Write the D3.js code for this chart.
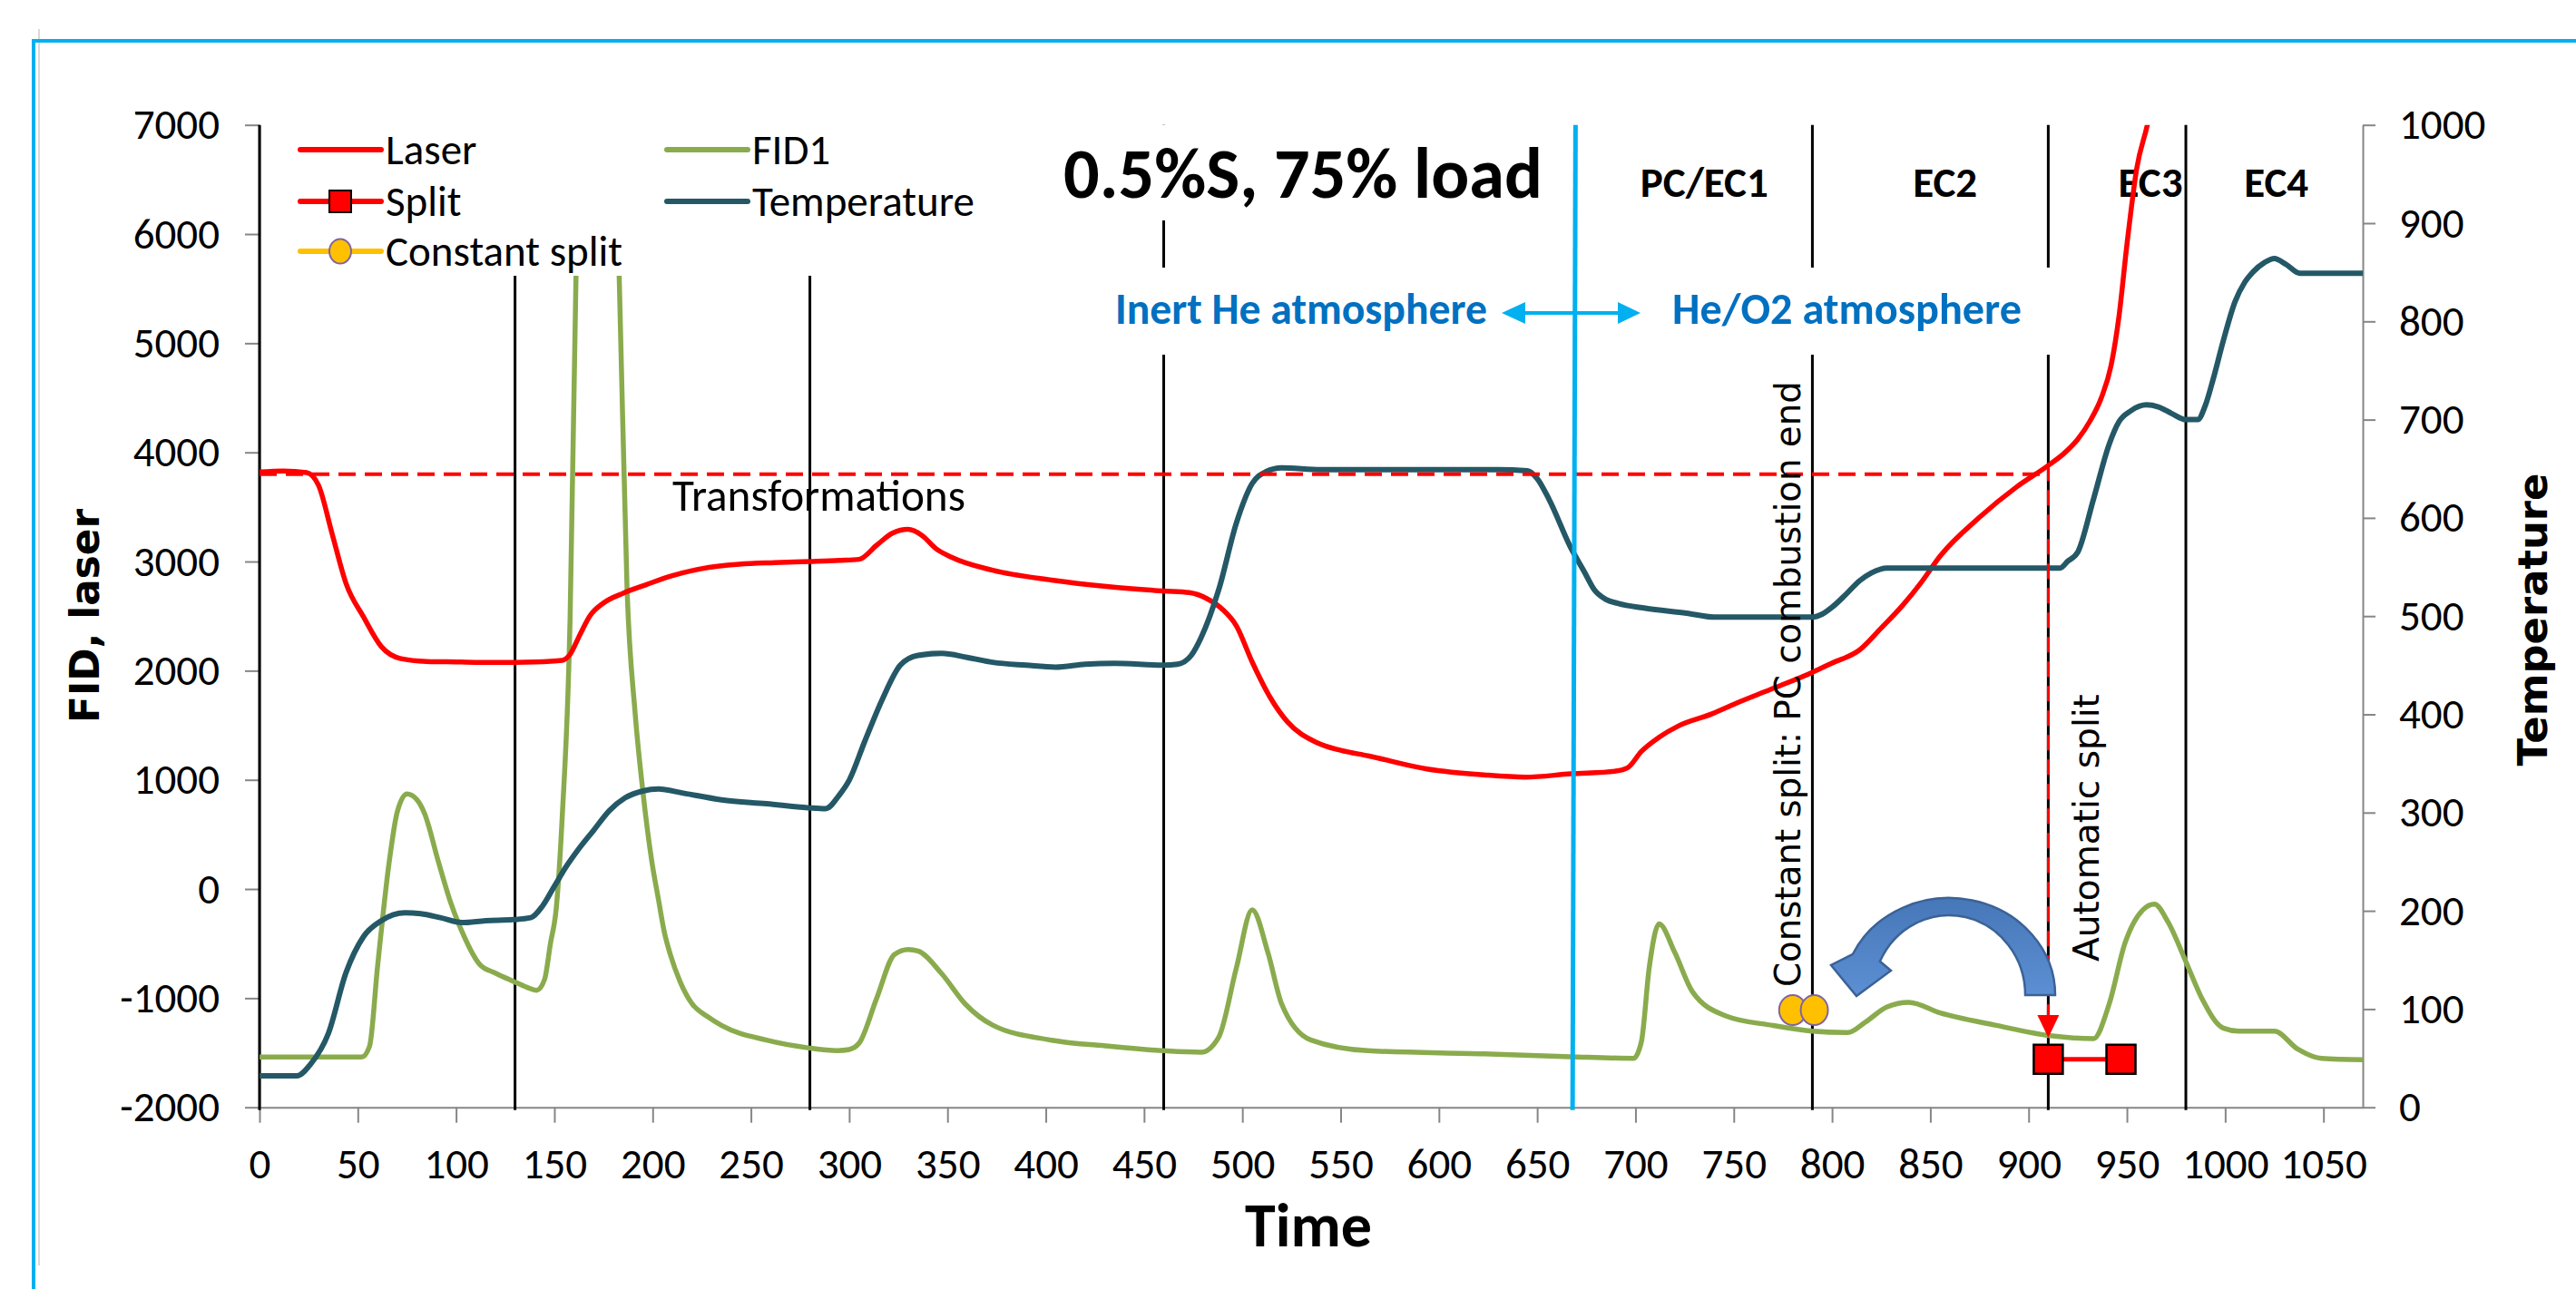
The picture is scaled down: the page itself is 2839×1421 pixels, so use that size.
<!DOCTYPE html>
<html lang="en">
<head>
<meta charset="UTF-8">
<script src="https://d3js.org/d3.v7.min.js"></script>
<style>
  body { margin: 0; background: #fff; }
  svg { display: block; }
</style>
<title>0.5%S, 75% load</title>
</head>
<body>
<div id="chart"></div>
<script>
// values: [time, value]
const laser = [[0,3820],[12,3830],[24,3815],[30,3700],[37,3250],[44,2800],[53,2490],[62,2220],[72,2110],[85,2085],
  [100,2080],[120,2075],[140,2080],[154,2095],[158,2150],[163,2330],[168,2500],[175,2620],[185,2710],[197,2790],
  [210,2870],[225,2935],[244,2975],[262,2990],[280,3000],[295,3010],[305,3020],[314,3150],[322,3260],[330,3295],
  [337,3240],[344,3120],[352,3040],[373,2920],[403,2830],[432,2770],[460,2730],[473,2715],[482,2660],[490,2560],
  [497,2410],[505,2080],[514,1760],[523,1530],[538,1340],[550,1270],[564,1220],[594,1100],[623,1045],[644,1025],
  [667,1055],[690,1080],[696,1110],[703,1260],[712,1390],[722,1495],[739,1605],[751,1700],[769,1830],[790,1985],
  [800,2070],[814,2190],[825,2390],[836,2600],[845,2800],[855,3050],[875,3405],[894,3685],[910,3880],[918,3990],
  [925,4120],[931,4280],[937,4500],[942,4800],[946,5250],[950,5900],[955,6600],[961,7050],[966,7600]];

const fid1 = [[0,-1540],[52,-1540],[56,-1440],[60,-720],[66,250],[70,700],[75,870],[80,820],[84,690],[91,250],
  [97,-110],[103,-390],[112,-690],[120,-770],[129,-845],[136,-900],[141,-928],[145,-830],[148,-500],[151,-170],
  [154,660],[158,2470],[161,5600],[166,8000],[172,9000],[178,8000],[183,5600],[187,2740],[191,1630],[195,900],
  [199.6,250],[203,-100],[206,-400],[209,-600],[214,-850],[220,-1050],[228,-1170],[235,-1250],[258,-1385],
  [279,-1455],[294,-1480],[300,-1470],[305,-1413],[314,-1000],[323,-600],[330,-554],[335,-568],[347,-775],
  [359,-1053],[373,-1247],[403,-1385],[432,-1440],[460,-1482],[479,-1496],[488,-1357],[497,-720],[505,-190],
  [513,-582],[520,-1053],[535,-1385],[564,-1482],[623,-1510],[667,-1537],[699,-1551],[703,-1400],[707,-720],
  [712,-320],[720,-582],[729,-942],[746,-1163],[770,-1250],[790,-1302],[808,-1315],[817,-1219],[828,-1080],
  [839,-1039],[855,-1136],[883,-1247],[911,-1344],[933,-1371],[941,-1053],[949,-498],[958,-194],[964,-139],
  [971,-305],[980,-665],[988,-997],[999,-1274],[1007,-1302],[1025,-1302],[1037,-1468],[1049,-1551],[1070,-1565]];

const temperature = [[0,32],[19,32],[26,44],[35,75],[44,137],[53,174],[62,190],[74,198],[82,197],[92,193],[103,188],
  [115,190],[129,191],[138,193],[144,205],[150,225],[156,245],[162,262],[170,282],[178,302],[186,315],[195,322],
  [203,324],[215,320],[235,313],[258,309],[279,305],[288,304],[295,318],[300,333],[308,373],[317,416],[326,450],
  [335,460],[347,462],[360,458],[373,453],[390,450],[405,448],[420,451],[435,452],[460,450],[467,451],[474,460],
  [479,478],[488,527],[497,595],[505,635],[512,647],[520,651],[540,649],[570,649],[600,649],[630,649],[645,648],
  [650,640],[656,619],[667,570],[674,545],[679,527],[685,517],[691,513],[705,508],[726,503],[740,499],[760,499],
  [790,499],[795,502],[800,509],[807,522],[814,536],[820,544],[828,549],[850,549],[880,549],[916,549],[920,556],
  [925,565],[933,619],[941,675],[946,698],[952,709],[960,715],[966,713],[973,706],[980,700],[986,700],[990,715],
  [994,742],[999,780],[1005,820],[1010,840],[1014,850],[1020,860],[1025,864],[1031,858],[1038,849],[1050,849],[1070,849]];

const split = [[910,-1560],[947,-1560]];
const constantSplit = [[780,-1110],[791,-1110]];

const markerTimes = [0, 130, 280, 460, 790, 910, 980];
const sectionLabels = ["PC/EC1", "EC2", "EC3", "EC4"];
const sectionTimes = [735, 857.5, 962, 1026];
const transformLevel = 3800;

const timeTicks = d3.range(0, 1051, 50);
const leftTicks = d3.range(-2000, 7001, 1000);
const rightTicks = d3.range(0, 1001, 100);

const W = 2839, H = 1421;
const CAL = "Carlito, Calibri, Lato, sans-serif";
const VERD = "Verdana, 'DejaVu Sans', sans-serif";
const FS = 47;

const svg = d3.select("#chart").append("svg").attr("width", W).attr("height", H);

const x = d3.scaleLinear().domain([0, 1070]).range([286, 2604]);
const yL = d3.scaleLinear().domain([-2000, 7000]).range([1220.7, 137.7]);
const yR = d3.scaleLinear().domain([0, 1000]).range([1220.7, 137.7]);

// squeeze/stretch a text to a target width
function fit(sel, w) {
  const cur = parseFloat(sel.style("font-size"));
  const len = sel.node().getComputedTextLength();
  sel.style("font-size", (cur * w / len) + "px");
  return sel;
}

// picture frame
svg.append("line").attr("x1", 43).attr("x2", 43).attr("y1", 32).attr("y2", 1395)
  .attr("stroke", "#d9d9d9").attr("stroke-width", 2);
svg.append("line").attr("x1", 37).attr("x2", W).attr("y1", 45).attr("y2", 45)
  .attr("stroke", "#00b0f0").attr("stroke-width", 4);
svg.append("line").attr("x1", 37).attr("x2", 37).attr("y1", 43).attr("y2", H)
  .attr("stroke", "#00b0f0").attr("stroke-width", 4);

svg.append("defs").append("clipPath").attr("id", "plot")
  .append("rect").attr("x", 286).attr("y", 137.7).attr("width", 2318).attr("height", 1083);

// axes
function styleAxis(g) {
  g.attr("font-family", CAL).attr("font-size", FS);
  g.select(".domain").attr("stroke", "#868686").attr("stroke-width", 2);
  g.selectAll(".tick line").attr("stroke", "#868686").attr("stroke-width", 2);
  g.selectAll(".tick text").attr("fill", "#000");
}
svg.append("g").attr("transform", `translate(0,${yL(-2000)})`)
  .call(d3.axisBottom(x).tickValues(timeTicks).tickFormat(d => String(d))
    .tickSize(17).tickPadding(28).tickSizeOuter(0))
  .call(styleAxis);
svg.append("g").attr("transform", `translate(${x(0)},0)`)
  .call(d3.axisLeft(yL).tickValues(leftTicks).tickFormat(d => String(d))
    .tickSize(16).tickPadding(28).tickSizeOuter(0))
  .call(styleAxis);
svg.append("g").attr("transform", `translate(${x(1070)},0)`)
  .call(d3.axisRight(yR).tickValues(rightTicks).tickFormat(d => String(d))
    .tickSize(14).tickPadding(26).tickSizeOuter(0))
  .call(styleAxis);

// black stage lines
svg.selectAll(".stage").data(markerTimes).enter().append("line")
  .attr("class", "stage")
  .attr("x1", d => x(d)).attr("x2", d => x(d))
  .attr("y1", yL(7000)).attr("y2", yL(-2000) + 3)
  .attr("stroke", "#000").attr("stroke-width", 3);

// stage names
svg.selectAll(".sec").data(sectionLabels).enter().append("text")
  .attr("class", "sec")
  .attr("x", (d, i) => x(sectionTimes[i])).attr("y", 217)
  .attr("text-anchor", "middle")
  .style("font-family", CAL).style("font-weight", "bold").style("font-size", "44px")
  .text(d => d);
const pc = svg.select(".sec");
fit(pc, 141);
svg.selectAll(".sec").style("font-size", pc.style("font-size"));

// series
const plot = svg.append("g").attr("clip-path", "url(#plot)");
const lineL = d3.line().x(d => x(d[0])).y(d => yL(d[1])).curve(d3.curveMonotoneX);
const lineR = d3.line().x(d => x(d[0])).y(d => yR(d[1])).curve(d3.curveMonotoneX);

plot.append("path").datum(fid1).attr("d", lineL)
  .attr("fill", "none").attr("stroke", "#8aab4d").attr("stroke-width", 5.5).attr("stroke-linejoin", "round");
plot.append("path").datum(laser).attr("d", lineL)
  .attr("fill", "none").attr("stroke", "#ff0000").attr("stroke-width", 5.5).attr("stroke-linejoin", "round");
plot.append("path").datum(temperature).attr("d", lineR)
  .attr("fill", "none").attr("stroke", "#245866").attr("stroke-width", 6).attr("stroke-linejoin", "round");

// transformation level
plot.append("line")
  .attr("x1", x(0)).attr("x2", x(910))
  .attr("y1", yL(transformLevel)).attr("y2", yL(transformLevel))
  .attr("stroke", "#ff0000").attr("stroke-width", 4).attr("stroke-dasharray", "19,10");

// split markers
plot.append("path").datum(split).attr("d", d3.line().x(d => x(d[0])).y(d => yL(d[1])))
  .attr("stroke", "#ff0000").attr("stroke-width", 5).attr("fill", "none");
plot.selectAll(".sq").data(split).enter().append("rect")
  .attr("x", d => x(d[0]) - 16).attr("y", d => yL(d[1]) - 16)
  .attr("width", 32).attr("height", 32)
  .attr("fill", "#ff0000").attr("stroke", "#000").attr("stroke-width", 2.5);

plot.append("path").datum(constantSplit).attr("d", d3.line().x(d => x(d[0])).y(d => yL(d[1])))
  .attr("stroke", "#ffc000").attr("stroke-width", 5).attr("fill", "none");
plot.selectAll(".cs").data(constantSplit).enter().append("ellipse")
  .attr("cx", d => x(d[0])).attr("cy", d => yL(d[1]))
  .attr("rx", 15).attr("ry", 16.5)
  .attr("fill", "#ffc000").attr("stroke", "#8064a2").attr("stroke-width", 2);

svg.append("text").attr("x", 741).attr("y", 563)
  .style("font-family", CAL).style("font-size", FS + "px").text("Transformations")
  .call(s => fit(s, 323));

// legend
svg.append("rect").attr("x", 296).attr("y", 128).attr("width", 808).attr("height", 176).attr("fill", "#fff");
const legendItems = [
  { name: "Laser", color: "#ff0000", lx: 331, ly: 165, mark: null },
  { name: "Split", color: "#ff0000", lx: 331, ly: 222, mark: "square" },
  { name: "Constant split", color: "#ffc000", lx: 331, ly: 277, mark: "circle" },
  { name: "FID1", color: "#8aab4d", lx: 735, ly: 165, mark: null },
  { name: "Temperature", color: "#245866", lx: 735, ly: 222, mark: null }
];
const lg = svg.selectAll(".lg").data(legendItems).enter().append("g").attr("class", "lg");
lg.append("line")
  .attr("x1", d => d.lx).attr("x2", d => d.lx + 89)
  .attr("y1", d => d.ly).attr("y2", d => d.ly)
  .attr("stroke", d => d.color).attr("stroke-width", 6).attr("stroke-linecap", "round");
lg.filter(d => d.mark === "square").append("rect")
  .attr("x", d => d.lx + 44 - 12).attr("y", d => d.ly - 12).attr("width", 24).attr("height", 24)
  .attr("fill", "#ff0000").attr("stroke", "#000").attr("stroke-width", 2);
lg.filter(d => d.mark === "circle").append("ellipse")
  .attr("cx", d => d.lx + 44).attr("cy", d => d.ly).attr("rx", 12).attr("ry", 13.5)
  .attr("fill", "#ffc000").attr("stroke", "#8064a2").attr("stroke-width", 2);
lg.append("text")
  .attr("x", d => d.lx + 94).attr("y", d => d.ly + 16)
  .style("font-family", CAL).style("font-size", FS + "px")
  .text(d => d.name);

// title box
svg.append("rect").attr("x", 1150).attr("y", 138).attr("width", 575).attr("height", 105).attr("fill", "#fff");
svg.append("text").attr("x", 1172).attr("y", 218)
  .style("font-family", CAL).style("font-weight", "bold").style("font-size", "76px")
  .text("0.5%S, 75% load").call(s => fit(s, 528));

// atmosphere box
svg.append("rect").attr("x", 1200).attr("y", 295).attr("width", 1080).attr("height", 96).attr("fill", "#fff");
svg.append("text").attr("x", 1229).attr("y", 357)
  .style("font-family", CAL).style("font-weight", "bold").style("font-size", "44px").attr("fill", "#0070c0")
  .text("Inert He atmosphere").call(s => fit(s, 410));
svg.append("text").attr("x", 1843).attr("y", 357)
  .style("font-family", CAL).style("font-weight", "bold").style("font-size", "44px").attr("fill", "#0070c0")
  .text("He/O2 atmosphere").call(s => fit(s, 385));

// atmosphere switch
svg.append("line").attr("x1", x(669.5)).attr("x2", x(668)).attr("y1", yL(7000)).attr("y2", yL(-2000) + 3)
  .attr("stroke", "#00b0f0").attr("stroke-width", 5);
svg.append("line").attr("x1", 1676).attr("x2", 1788).attr("y1", 345).attr("y2", 345)
  .attr("stroke", "#00b0f0").attr("stroke-width", 4);
svg.append("path").attr("d", "M1655,345 L1681,333 L1681,357 Z M1808,345 L1783,333 L1783,357 Z")
  .attr("fill", "#00b0f0");

// automatic split marker
const xs = x(910);
svg.append("line").attr("x1", xs).attr("x2", xs).attr("y1", yL(3880)).attr("y2", 1122)
  .attr("stroke", "#ff0000").attr("stroke-width", 3).attr("stroke-dasharray", "17,10");
svg.append("path").attr("d", `M${xs},1144 L${xs - 12},1119 L${xs + 12},1119 Z`).attr("fill", "#ff0000");

// curved arrow
const defs = svg.select("defs");
const grad = defs.append("linearGradient").attr("id", "arrowFill").attr("x1", 0).attr("y1", 0).attr("x2", 0).attr("y2", 1);
grad.append("stop").attr("offset", "0%").attr("stop-color", "#4677b8");
grad.append("stop").attr("offset", "100%").attr("stop-color", "#5c8fd3");
const cx = 2148, cy = 1097, a = 155 * Math.PI / 180;
const oEnd = [cx + 117 * Math.cos(a), cy - 107 * Math.sin(a)];
const iEnd = [cx + 84 * Math.cos(a), cy - 88 * Math.sin(a)];
svg.append("path")
  .attr("d", `M${cx + 117},${cy} A117,107 0 0 0 ${oEnd[0]},${oEnd[1]} L2018,1064 L2046,1098 L2084,1070 ` +
    `L${iEnd[0]},${iEnd[1]} A84,88 0 0 1 ${cx + 84},${cy} Z`)
  .attr("fill", "url(#arrowFill)").attr("stroke", "#3b6296").attr("stroke-width", 2.5);

// rotated notes
svg.append("text").attr("transform", "translate(1984,1088) rotate(-90)")
  .style("font-family", VERD).style("font-size", "36px")
  .text("Constant split: PC combustion end").call(s => fit(s, 668));
svg.append("text").attr("transform", "translate(2313,1060) rotate(-90)")
  .style("font-family", VERD).style("font-size", "36px")
  .text("Automatic split").call(s => fit(s, 295));

// axis titles
svg.append("text").attr("transform", "translate(109,679) rotate(-90)").attr("text-anchor", "middle")
  .style("font-family", VERD).style("font-weight", "bold").style("font-size", "44px")
  .text("FID, laser").call(s => fit(s, 236));
svg.append("text").attr("transform", "translate(2807,683) rotate(-90)").attr("text-anchor", "middle")
  .style("font-family", VERD).style("font-weight", "bold").style("font-size", "44px")
  .text("Temperature").call(s => fit(s, 323));
svg.append("text").attr("x", 1442).attr("y", 1374).attr("text-anchor", "middle")
  .style("font-family", CAL).style("font-weight", "bold").style("font-size", "54px")
  .text("Time").call(s => fit(s, 140));
</script>
</body>
</html>
